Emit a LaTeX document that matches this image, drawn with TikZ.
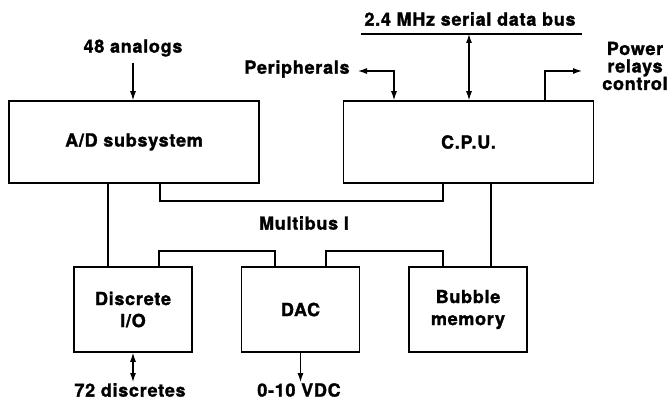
\documentclass[tikz,border=0pt]{standalone}
\usepackage{fontspec}
\setmainfont{TeX Gyre Heros}[LetterSpace=4,BoldFeatures={FakeBold=1.5}]
\usetikzlibrary{arrows.meta}

\begin{document}
\begin{tikzpicture}[x=1pt,y=-1pt,
		every node/.style={font=\fontsize{18}{22}\selectfont\bfseries},
		bigbox/.style={draw,line width=1.6pt,minimum width=250pt,minimum height=82pt,inner sep=0pt},
		smallbox/.style={draw,line width=1.6pt,minimum width=118pt,minimum height=85pt,inner sep=0pt,align=center},
		lbl/.style={inner sep=1pt},
		wire/.style={line width=1.1pt},
		arr/.style={line width=1.1pt,>={Latex[length=9pt,width=6pt]}}]
			\useasboundingbox (0,0) rectangle (672,404);
			% boxes
			\node[bigbox] (ad) at (134,142) {A/D subsystem};
			\node[bigbox] (cpu) at (468.5,142) {C.P.U.};
			\node[smallbox] (dio) at (133,309.5) {Discrete\\I/O};
			\node[smallbox] (dac) at (300.5,309.5) {DAC};
			\node[smallbox] (bub) at (468,309.5) {Bubble\\memory};
			% labels
			\node[lbl] (analogs) at (133,48) {48 analogs};
			\node[lbl] (serial) at (470,19) {2.4 MHz serial data bus};
			\node[lbl] (periph) at (297,69) {Peripherals};
			\node[lbl,align=center,font=\fontsize{18}{17.5}\selectfont\bfseries] (power) at (635,66) {Power\\relays\\control};
			\node[lbl] (multibus) at (304,223) {Multibus I};
			\node[lbl] (discretes) at (130,390) {72 discretes};
			\node[lbl] (vdc) at (299,390) {0-10 VDC};
			% bus points
			\coordinate (busL) at (361,34);
			\coordinate (busR) at (582,34);
			\coordinate (tap) at (469,34);
			\coordinate (pcorner) at (394,71);
			\coordinate (ptip) at (358,71);
			\coordinate (rcorner) at (545,71);
			\coordinate (rtip) at (582,71);
			\coordinate (mbA) at (160,201);
			\coordinate (mbB) at (443,201);
			\coordinate (dleg) at (108,220);
			\coordinate (bleg) at (491,220);
			\coordinate (lbA) at (159,251);
			\coordinate (lbB) at (275,251);
			\coordinate (lbC) at (326,251);
			\coordinate (lbD) at (443,251);
			% serial bus and cpu lines
			\draw[line width=1.6pt] (busL) -- (busR);
			\draw[arr,<->] (tap) -- (tap |- cpu.north);
			\draw[arr,<->] (ptip) -- (pcorner) -- (pcorner |- cpu.north);
			\draw[arr,->] (rcorner |- cpu.north) -- (rcorner) -- (rtip);
			\draw[arr,->,shorten <=5pt] (analogs) -- (analogs |- ad.north);
			% multibus
			\draw[wire] (mbA |- ad.south) -- (mbA) -- (mbB) -- (mbB |- cpu.south);
			\draw[wire] (dleg |- ad.south) -- (dleg |- dio.north);
			\draw[wire] (bleg |- cpu.south) -- (bleg |- bub.north);
			\draw[wire] (lbA |- dio.north) -- (lbA) -- (lbB) -- (lbB |- dac.north);
			\draw[wire] (lbC |- dac.north) -- (lbC) -- (lbD) -- (lbD |- bub.north);
			% outputs
			\draw[arr,<->] (dio.south) -- (discretes.north -| dio.south);
			\draw[arr,->] (dac.south) -- (vdc.north -| dac.south);
		\end{tikzpicture}
\end{document}
